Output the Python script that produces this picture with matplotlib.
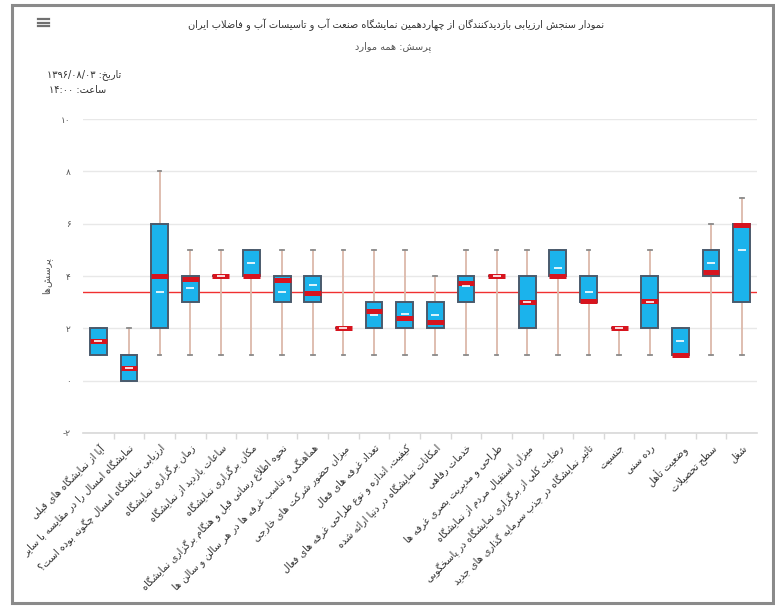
import re
import matplotlib
matplotlib.use("Agg")
import matplotlib.pyplot as plt
from matplotlib.patches import Rectangle
from matplotlib.lines import Line2D

# ---------------- data ----------------
categories = [
    "آیا از نمایشگاه های قبلی",
    "نمایشگاه امسال را در مقایسه با سایر",
    "ارزیابی نمایشگاه امسال چگونه بوده است؟",
    "زمان برگزاری نمایشگاه",
    "ساعات بازدید از نمایشگاه",
    "مکان برگزاری نمایشگاه",
    "نحوه اطلاع رسانی قبل و هنگام برگزاری نمایشگاه",
    "هماهنگی و تناسب غرفه ها در هر سالن و سالن ها",
    "میزان حضور شرکت های خارجی",
    "تعداد غرفه های فعال",
    "کیفیت، اندازه و نوع طراحی غرفه های فعال",
    "امکانات نمایشگاه در دنیا ارائه شده",
    "خدمات رفاهی",
    "طراحی و مدیریت بصری غرفه ها",
    "میزان استقبال مردم از نمایشگاه",
    "رضایت کلی از برگزاری نمایشگاه در پاسخگویی",
    "تاثیر نمایشگاه در جذب سرمایه گذاری های جدید",
    "جنسیت",
    "رده سنی",
    "وضعیت تأهل",
    "سطح تحصیلات",
    "شغل",
]
low    = [1, 0, 1, 1, 1, 1, 1, 1, 1, 1, 1, 1, 1, 1, 1, 1, 1, 1, 1, 1, 1, 1]
q1     = [1, 0, 2, 3, 4, 4, 3, 3, 2, 2, 2, 2, 3, 4, 2, 4, 3, 2, 2, 1, 4, 3]
median = [1.5, 0.5, 4, 3.9, 4, 4, 3.85, 3.35, 2, 2.65, 2.4, 2.25, 3.75, 4, 3, 4, 3.05, 2, 3.05, 1, 4.15, 5.95]
q3     = [2, 1, 6, 4, 4, 5, 4, 4, 2, 3, 3, 3, 4, 4, 4, 5, 4, 2, 4, 2, 5, 6]
high   = [2, 2, 8, 5, 5, 5, 5, 5, 5, 5, 5, 4, 5, 5, 5, 5, 5, 2, 5, 2, 6, 7]
means  = [1.5, 0.5, 3.4, 3.55, 4, 4.5, 3.4, 3.65, 2, 2.5, 2.55, 2.5, 3.6, 4, 3, 4.3, 3.4, 2, 3, 1.5, 4.5, 5]
overall_mean = 3.4
y_ticks = [-2, 0, 2, 4, 6, 8, 10]
y_tick_labels = ["-۲", "۰", "۲", "۴", "۶", "۸", "۱۰"]

title_text = "نمودار سنجش ارزیابی بازدیدکنندگان از چهاردهمین نمایشگاه صنعت آب و تاسیسات آب و فاضلاب ایران"
subtitle_text = "پرسش: همه موارد"
date_text = "تاریخ: ۱۳۹۶/۰۸/۰۳"
time_text = "ساعت: ۱۴:۰۰"
y_title = "پرسش‌ها"

# ---------------- minimal Persian shaping ----------------
F = {
    'ء': ('\uFE80', None, None, None),
    'آ': ('\uFE81', '\uFE82', None, None),
    'أ': ('\uFE83', '\uFE84', None, None),
    'ؤ': ('\uFE85', '\uFE86', None, None),
    'إ': ('\uFE87', '\uFE88', None, None),
    'ئ': ('\uFE89', '\uFE8A', '\uFE8B', '\uFE8C'),
    'ا': ('\uFE8D', '\uFE8E', None, None),
    'ب': ('\uFE8F', '\uFE90', '\uFE91', '\uFE92'),
    'ة': ('\uFE93', '\uFE94', None, None),
    'ت': ('\uFE95', '\uFE96', '\uFE97', '\uFE98'),
    'ث': ('\uFE99', '\uFE9A', '\uFE9B', '\uFE9C'),
    'ج': ('\uFE9D', '\uFE9E', '\uFE9F', '\uFEA0'),
    'ح': ('\uFEA1', '\uFEA2', '\uFEA3', '\uFEA4'),
    'خ': ('\uFEA5', '\uFEA6', '\uFEA7', '\uFEA8'),
    'د': ('\uFEA9', '\uFEAA', None, None),
    'ذ': ('\uFEAB', '\uFEAC', None, None),
    'ر': ('\uFEAD', '\uFEAE', None, None),
    'ز': ('\uFEAF', '\uFEB0', None, None),
    'س': ('\uFEB1', '\uFEB2', '\uFEB3', '\uFEB4'),
    'ش': ('\uFEB5', '\uFEB6', '\uFEB7', '\uFEB8'),
    'ص': ('\uFEB9', '\uFEBA', '\uFEBB', '\uFEBC'),
    'ض': ('\uFEBD', '\uFEBE', '\uFEBF', '\uFEC0'),
    'ط': ('\uFEC1', '\uFEC2', '\uFEC3', '\uFEC4'),
    'ظ': ('\uFEC5', '\uFEC6', '\uFEC7', '\uFEC8'),
    'ع': ('\uFEC9', '\uFECA', '\uFECB', '\uFECC'),
    'غ': ('\uFECD', '\uFECE', '\uFECF', '\uFED0'),
    'ف': ('\uFED1', '\uFED2', '\uFED3', '\uFED4'),
    'ق': ('\uFED5', '\uFED6', '\uFED7', '\uFED8'),
    'ك': ('\uFED9', '\uFEDA', '\uFEDB', '\uFEDC'),
    'ل': ('\uFEDD', '\uFEDE', '\uFEDF', '\uFEE0'),
    'م': ('\uFEE1', '\uFEE2', '\uFEE3', '\uFEE4'),
    'ن': ('\uFEE5', '\uFEE6', '\uFEE7', '\uFEE8'),
    'ه': ('\uFEE9', '\uFEEA', '\uFEEB', '\uFEEC'),
    'و': ('\uFEED', '\uFEEE', None, None),
    'ى': ('\uFEEF', '\uFEF0', None, None),
    'ي': ('\uFEF1', '\uFEF2', '\uFEF3', '\uFEF4'),
    'پ': ('\uFB56', '\uFB57', '\uFB58', '\uFB59'),
    'چ': ('\uFB7A', '\uFB7B', '\uFB7C', '\uFB7D'),
    'ژ': ('\uFB8A', '\uFB8B', None, None),
    'ک': ('\uFB8E', '\uFB8F', '\uFB90', '\uFB91'),
    'گ': ('\uFB92', '\uFB93', '\uFB94', '\uFB95'),
    'ی': ('\uFBFC', '\uFBFD', '\uFBFE', '\uFBFF'),
}
LAMALEF = {'ا': ('\uFEFB', '\uFEFC'), 'آ': ('\uFEF5', '\uFEF6'),
           'أ': ('\uFEF7', '\uFEF8'), 'إ': ('\uFEF9', '\uFEFA')}
MIRROR = {'(': ')', ')': '(', '[': ']', ']': '[', '«': '»', '»': '«'}


def shape(s):
    out = []
    n = len(s)
    i = 0
    while i < n:
        c = s[i]
        if c not in F:
            out.append(c)
            i += 1
            continue
        prev = s[i - 1] if i > 0 else ''
        join_prev = prev in F and F[prev][2] is not None and F[c][1] is not None
        if c == 'ل' and i + 1 < n and s[i + 1] in LAMALEF:
            out.append(LAMALEF[s[i + 1]][1 if join_prev else 0])
            i += 2
            continue
        nxt = s[i + 1] if i + 1 < n else ''
        join_next = F[c][2] is not None and nxt in F and F[nxt][1] is not None
        if join_prev and join_next:
            out.append(F[c][3])
        elif join_prev:
            out.append(F[c][1])
        elif join_next:
            out.append(F[c][2])
        else:
            out.append(F[c][0])
        i += 1
    return ''.join(out).replace('\u200c', '')


LTR_RE = re.compile(r'[0-9۰-۹A-Za-z]+(?:[/:.][0-9۰-۹A-Za-z]+)*')


def fa(s):
    lines = []
    for line in s.split('\n'):
        sh = shape(line)
        parts = []
        pos = 0
        for m in LTR_RE.finditer(sh):
            if m.start() > pos:
                parts.append(('r', sh[pos:m.start()]))
            parts.append(('l', m.group()))
            pos = m.end()
        if pos < len(sh):
            parts.append(('r', sh[pos:]))
        vis = []
        for kind, t in reversed(parts):
            if kind == 'l':
                vis.append(t)
            else:
                vis.append(''.join(MIRROR.get(ch, ch) for ch in reversed(t)))
        lines.append(''.join(vis))
    return '\n'.join(lines)


# ---------------- figure ----------------
W, H = 775, 606
FS = 7
plt.rcParams['font.family'] = ['DejaVu Sans']
fig = plt.figure(figsize=(W / 100, H / 100), dpi=100)
fig.patch.set_facecolor('white')


def fx(px):
    return px / W


def fy(py):
    return 1 - py / H


# outer frame
fig.add_artist(Rectangle((fx(12), fy(603)), fx(761), 598 / H, transform=fig.transFigure,
                         fill=False, edgecolor='#8a8a8a', linewidth=2.2))
# hamburger icon
for yy in (19, 22.5, 26):
    fig.add_artist(Line2D([fx(38), fx(49)], [fy(yy), fy(yy)], transform=fig.transFigure,
                          color='#707070', linewidth=1.6))

fig.text(fx(396), fy(25), fa(title_text), ha='center', va='center', fontsize=FS, color='#333333')
fig.text(fx(393), fy(47), fa(subtitle_text), ha='center', va='center', fontsize=FS, color='#555555')
fig.text(fx(121), fy(75), fa(date_text), ha='right', va='center', fontsize=FS, color='#333333')
fig.text(fx(106), fy(90), fa(time_text), ha='right', va='center', fontsize=FS, color='#333333')

ax = fig.add_axes([fx(83), fy(433), (757 - 83) / W, (433 - 119) / H])
ax.set_facecolor('white')

n = len(categories)
positions = list(range(n))
stats = []
for i in range(n):
    stats.append(dict(whislo=low[i], q1=q1[i], med=median[i], q3=q3[i], whishi=high[i],
                      mean=means[i], fliers=[], label=str(i)))

ax.axhline(overall_mean, color='#f03030', linewidth=1.0, zorder=1.5)

ax.bxp(stats, positions=positions, widths=0.55, patch_artist=True, showmeans=True,
       showfliers=False, capwidths=0.12, manage_ticks=False,
       boxprops=dict(facecolor='#1bb3ec', edgecolor='#4a5a6c', linewidth=1.4, zorder=3),
       medianprops=dict(color='#d7141e', linewidth=3.6, solid_capstyle='butt', zorder=4),
       whiskerprops=dict(color='#dcb9aa', linewidth=1.3, zorder=2),
       capprops=dict(color='#8a8a8a', linewidth=1.3, zorder=2),
       meanprops=dict(marker='_', markersize=6, markeredgecolor='white',
                      markeredgewidth=1.2, zorder=5))

ax.set_xlim(-0.5, n - 0.5)
ax.set_ylim(-2, 10)
ax.set_yticks(y_ticks)
ax.set_yticklabels(y_tick_labels, fontsize=FS - 0.5, color='#555555')
ax.grid(axis='y', color='#e8e8e8', linewidth=1.0, zorder=0)
ax.set_axisbelow(True)
ax.tick_params(axis='y', length=0, pad=9)

ax.set_xticks(positions)
ax.set_xticklabels([fa(c) for c in categories], rotation=45, ha='right',
                   rotation_mode='anchor', fontsize=FS, color='#333333')
ax.tick_params(axis='x', length=0, pad=7)
ax.set_xticks([p + 0.5 for p in positions[:-1]], minor=True)
ax.tick_params(axis='x', which='minor', length=4, color='#d8d8d8', width=1)

for s in ('top', 'right', 'left'):
    ax.spines[s].set_visible(False)
ax.spines['bottom'].set_color('#d8d8d8')
ax.spines['bottom'].set_linewidth(1.2)

ax.set_ylabel(fa(y_title), fontsize=FS, color='#555555', labelpad=6)

fig.savefig('out.png', dpi=100, facecolor='white')
